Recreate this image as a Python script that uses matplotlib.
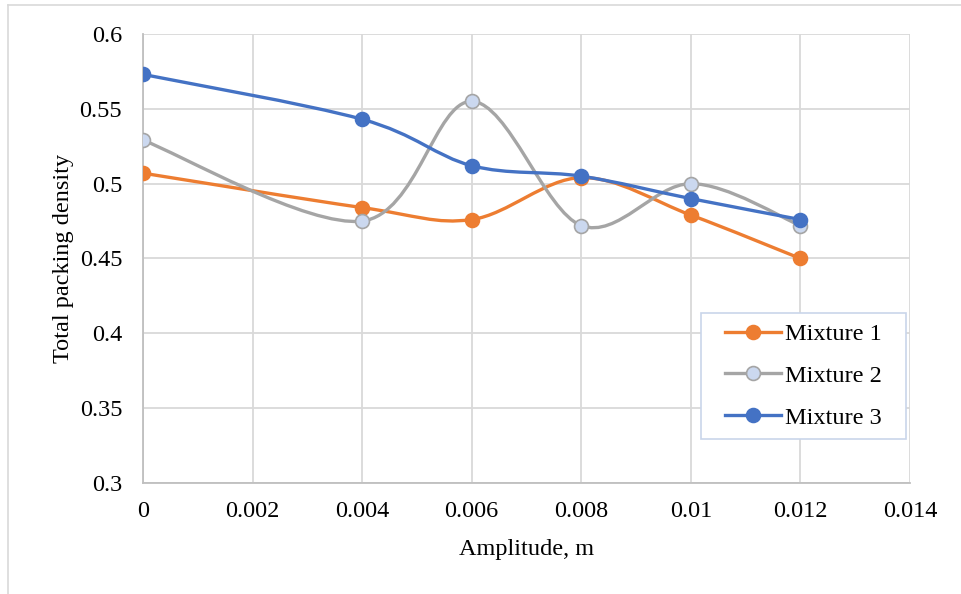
import matplotlib
matplotlib.use("Agg")
import matplotlib.pyplot as plt
from matplotlib.path import Path
from matplotlib.patches import PathPatch, Rectangle
from matplotlib.lines import Line2D
import numpy as np

plt.rcParams['font.family'] = ['Liberation Serif', 'DejaVu Serif']

# amplitude (m) and total packing density per mixture
amplitude = [0, 0.004, 0.006, 0.008, 0.010, 0.012]
mixture_1 = [0.507, 0.484, 0.476, 0.504, 0.479, 0.450]
mixture_2 = [0.529, 0.475, 0.555, 0.472, 0.500, 0.472]
mixture_3 = [0.573, 0.543, 0.512, 0.505, 0.490, 0.476]

x_ticks = [0, 0.002, 0.004, 0.006, 0.008, 0.010, 0.012, 0.014]
x_tick_labels = ['0', '0.002', '0.004', '0.006', '0.008', '0.01', '0.012', '0.014']
y_ticks = [0.3, 0.35, 0.4, 0.45, 0.5, 0.55, 0.6]
y_tick_labels = ['0.3', '0.35', '0.4', '0.45', '0.5', '0.55', '0.6']

ORANGE = '#ED7D31'
GREY = '#A5A5A5'
BLUE = '#4472C4'
FS = 17.5


def smooth_path(xs, ys):
    # spreadsheet-style smoothed line: cubic Bezier segments (Catmull-Rom)
    p = np.column_stack([xs, ys]).astype(float)
    pts = np.vstack([p[0], p, p[-1]])
    verts = [tuple(p[0])]
    codes = [Path.MOVETO]
    for i in range(1, len(pts) - 2):
        c1 = pts[i] + (pts[i + 1] - pts[i - 1]) / 6.0
        c2 = pts[i + 1] - (pts[i + 2] - pts[i]) / 6.0
        verts += [tuple(c1), tuple(c2), tuple(pts[i + 1])]
        codes += [Path.CURVE4] * 3
    return Path(verts, codes)


fig = plt.figure(figsize=(9.61, 5.94), dpi=100)
ax = fig.add_axes([0.1488, 0.1869, 0.7981, 0.7559])

series = [
    (mixture_1, ORANGE, ORANGE, ORANGE, 'Mixture 1'),
    (mixture_2, GREY, '#CBD8EF', GREY, 'Mixture 2'),
    (mixture_3, BLUE, BLUE, BLUE, 'Mixture 3'),
]

handles = []
for ys, lc, mfc, mec, name in series:
    patch = PathPatch(smooth_path(amplitude, ys), facecolor='none', edgecolor=lc,
                      lw=2.4, capstyle='round', joinstyle='round', zorder=3)
    ax.add_patch(patch)
    ax.plot(amplitude, ys, ls='none', marker='o', ms=10, mfc=mfc, mec=mec,
            mew=1.2, zorder=4)
    handles.append(Line2D([], [], color=lc, lw=2.4, marker='o', ms=10,
                          mfc=mfc, mec=mec, mew=1.2, label=name))

ax.set_xlim(0, 0.014)
ax.set_ylim(0.3, 0.6)
ax.set_xticks(x_ticks)
ax.set_xticklabels(x_tick_labels)
ax.set_yticks(y_ticks)
ax.set_yticklabels(y_tick_labels)
ax.tick_params(length=0, labelsize=FS, labelcolor='black')
ax.tick_params(axis='y', pad=15)
ax.tick_params(axis='x', pad=13)

ax.grid(True, color='#D9D9D9', lw=1.3)
ax.set_axisbelow(True)
for side in ['top', 'right']:
    ax.spines[side].set_visible(False)
for side in ['left', 'bottom']:
    ax.spines[side].set_color('#BFBFBF')
    ax.spines[side].set_linewidth(1.3)

ax.set_xlabel('Amplitude, m', fontsize=FS, labelpad=12)
ax.set_ylabel('Total packing density', fontsize=FS, labelpad=4)

# legend box: white panel with a pale blue border, entries centred inside
box = Rectangle((0.7275, 0.098), 0.2673, 0.2806, transform=ax.transAxes,
                facecolor='white', edgecolor='#C9D5EA', lw=1.2, zorder=5)
ax.add_patch(box)
leg = ax.legend(handles=handles, loc='center', bbox_to_anchor=(0.8611, 0.2383),
                fontsize=FS, frameon=False, handlelength=2.3,
                handletextpad=0.2, borderpad=0.2, labelspacing=0.82)
leg.set_zorder(6)

# outer chart frame (left and top edges)
fig.add_artist(Line2D([0.0085, 0.0085], [0.0, 0.9916], transform=fig.transFigure,
                      color='#D9D9D9', lw=1.2))
fig.add_artist(Line2D([0.0085, 1.0], [0.9916, 0.9916], transform=fig.transFigure,
                      color='#D9D9D9', lw=1.2))

fig.savefig('out.png', dpi=100)
